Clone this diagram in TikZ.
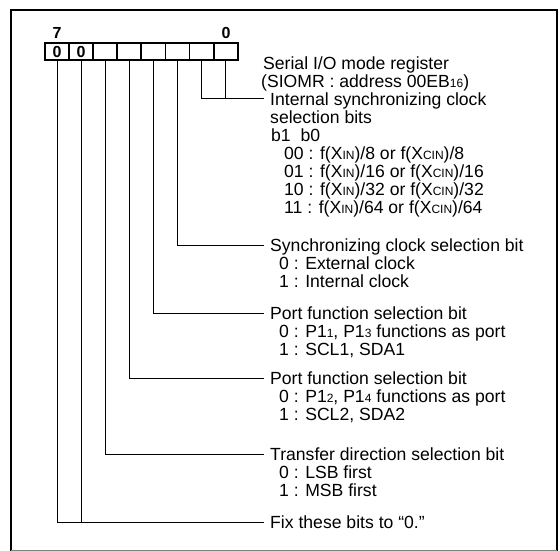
\documentclass[tikz,border=0pt]{standalone}
\usepackage{fontspec}
\setmainfont{Liberation Sans}
\newcommand{\sml}[1]{{\fontsize{12}{12}\selectfont #1}}

\begin{document}
\begin{tikzpicture}[
        x=1pt, y=-1pt,
        bitcell/.style={draw, line width=1.8pt, minimum width=24.1pt, minimum height=16.5pt, inner sep=0pt, font=\fontsize{16}{16}\selectfont\bfseries},
        bitnum/.style={inner sep=0pt, font=\fontsize{16}{16}\selectfont\bfseries},
        lbl/.style={anchor=west, inner sep=0pt, text height=12.5pt, text depth=0pt, font=\fontsize{17.6}{17.6}\selectfont},
        wire/.style={line width=1pt},
        lead/.style={wire, shorten >=6pt}
    ]
        \useasboundingbox (0,0) rectangle (560,551);

        % --- outer frame ---
        \draw[line width=2.6pt] (11,551) -- (11,10) -- (557,10) -- (557,551);
        \draw[line width=0.8pt, gray] (11,550) -- (557,550);

        % --- register cells, bit 7 on the left ---
        \foreach \i in {7,...,0}
            \node[bitcell] (b\i) at ({57+24.1*(7-\i)}, 51.5) {};
        \node[bitnum] at (b7) {0};
        \node[bitnum] at (b6) {0};
        \node[bitnum] (msb) at (57, 33) {7};
        \node[bitnum] (lsb) at (226, 33) {0};

        % --- register name ---
        \node[lbl] (reg) at (263, 63) {Serial I/O mode register};
        \node[lbl] (regadr) at (261, 81) {(SIOMR : address 00EB\sml{16})};

        % --- b1, b0 ---
        \node[lbl] (isc) at (270, 99) {Internal synchronizing clock};
        \node[lbl] (iscb) at (270, 117) {selection bits};
        \node[lbl] (iscbb) at (271, 135) {b1\ \ b0};
        \node[lbl] (isc00) at (284, 153) {00 : f(X\sml{IN})/8 or f(X\sml{CIN})/8};
        \node[lbl] (isc01) at (284, 171) {01 : f(X\sml{IN})/16 or f(X\sml{CIN})/16};
        \node[lbl] (isc10) at (284, 189) {10 : f(X\sml{IN})/32 or f(X\sml{CIN})/32};
        \node[lbl] (isc11) at (284, 207) {11 : f(X\sml{IN})/64 or f(X\sml{CIN})/64};

        % --- b2 ---
        \node[lbl] (sync) at (270, 245) {Synchronizing clock selection bit};
        \node[lbl] (sync0) at (279, 263) {0 : External clock};
        \node[lbl] (sync1) at (279, 281) {1 : Internal clock};

        % --- b3 ---
        \node[lbl] (pfa) at (270, 313) {Port function selection bit};
        \node[lbl] (pfa0) at (279, 331) {0 : P1\sml{1}, P1\sml{3} functions as port};
        \node[lbl] (pfa1) at (279, 349) {1 : SCL1, SDA1};

        % --- b4 ---
        \node[lbl] (pfb) at (270, 378) {Port function selection bit};
        \node[lbl] (pfb0) at (279, 396) {0 : P1\sml{2}, P1\sml{4} functions as port};
        \node[lbl] (pfb1) at (279, 414) {1 : SCL2, SDA2};

        % --- b5 ---
        \node[lbl] (tdir) at (270, 454) {Transfer direction selection bit};
        \node[lbl] (tdir0) at (279, 472) {0 : LSB first};
        \node[lbl] (tdir1) at (279, 490) {1 : MSB first};

        % --- b6, b7 ---
        \node[lbl] (fix) at (270, 522) {Fix these bits to “0.”};

        % --- leads from the cells ---
        \draw[lead] (b1.south) |- (isc.west);
        \draw[wire] (b0.south) -- (b0.south |- isc.west);
        \draw[lead] (b2.south) |- (sync.west);
        \draw[lead] (b3.south) |- (pfa.west);
        \draw[lead] (b4.south) |- (pfb.west);
        \draw[lead] (b5.south) |- (tdir.west);
        \draw[lead] (b7.south) |- (fix.west);
        \draw[wire] (b6.south) -- (b6.south |- fix.west);

    \end{tikzpicture}
\end{document}
